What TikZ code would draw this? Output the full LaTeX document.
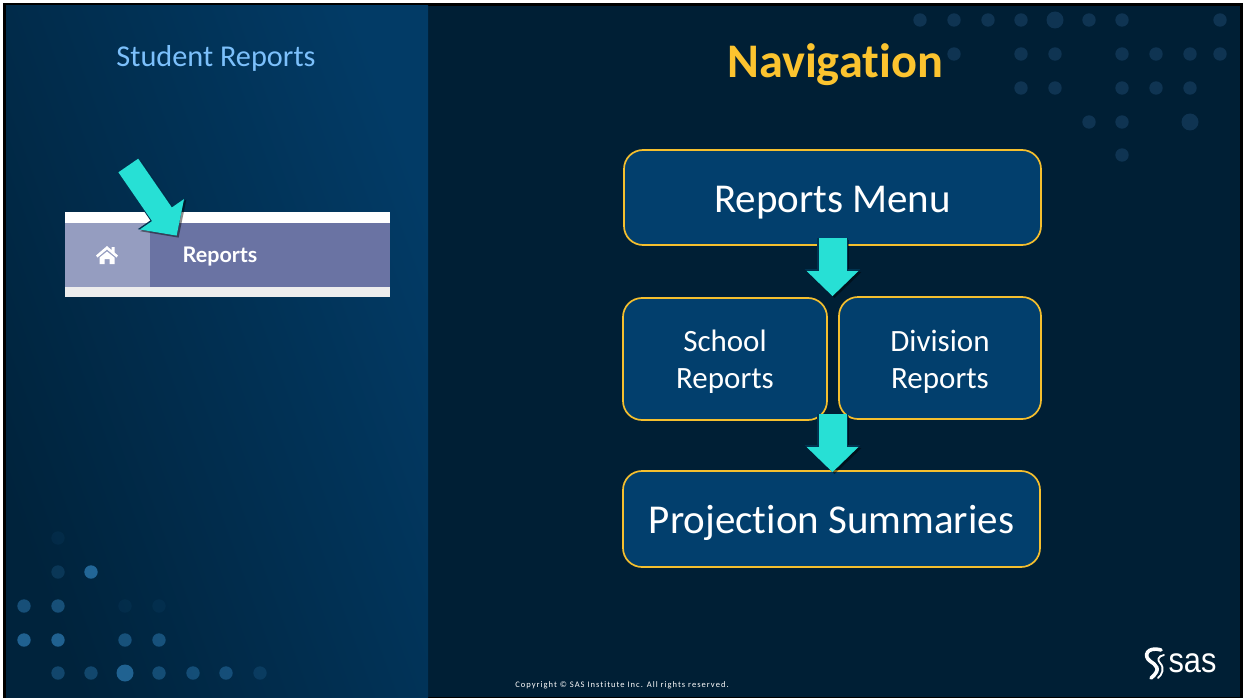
\documentclass[tikz,border=0pt]{standalone}
\usepackage{xcolor}
\usepackage{fontspec}
\usepackage{tikz}
\usetikzlibrary{arrows.meta, positioning}
\setmainfont[Ligatures=NoCommon]{Carlito}
\newfontfamily\lablfont{Lato}
\newfontfamily\logofont{Liberation Sans}
\newfontfamily\copyfont[LetterSpace=12,Ligatures=NoCommon]{Carlito}

\definecolor{framedark}{HTML}{000000}
\definecolor{rightpanel}{HTML}{001F35}
\definecolor{panelleft}{HTML}{00233C}
\definecolor{panelright}{HTML}{023B66}
\definecolor{boxblue}{HTML}{023F6D}
\definecolor{boxgold}{HTML}{F5BF2E}
\definecolor{navgold}{HTML}{FCC42F}
\definecolor{titleblue}{HTML}{7CC0FB}
\definecolor{arrowteal}{HTML}{27E0D5}
\definecolor{arrowedge}{HTML}{013350}
\definecolor{dotright}{HTML}{0F3452}
\definecolor{dotleft}{HTML}{2E7CB4}
\definecolor{tabhome}{HTML}{959DC0}
\definecolor{tabreports}{HTML}{6A73A3}

\tikzset{
  reportbox/.style={draw=boxgold, fill=boxblue, line width=1.7pt, rounded corners=19pt,
    text=white, align=center, inner sep=0pt},
  arrowshadow/.style={draw=black, opacity=.45, transform canvas={shift={(2pt,-2pt)}}},
  flowarrow/.style={draw=arrowteal, line width=28pt, -{Triangle[width=50pt,length=25pt]},
    preaction={arrowshadow, line width=29pt, -{Triangle[width=52pt,length=26pt]}},
    preaction={draw=arrowedge, line width=31pt, -{Triangle[width=54pt,length=27pt]}}},
  tiltarrow/.style={draw=arrowteal, line width=24pt, -{Triangle[width=52pt,length=26pt]},
    preaction={arrowshadow, line width=25pt, -{Triangle[width=54pt,length=27pt]}},
    preaction={draw=arrowedge, line width=26pt, -{Triangle[width=55pt,length=27.5pt]}}},
  dotr/.style={fill=dotright},
  dotl/.style={fill=dotleft}
}

\begin{document}
\begin{tikzpicture}[x=1pt,y=-1pt]
\useasboundingbox (0,0) rectangle (1244,698);
% Frame and panels
\fill[framedark] (3,3) rectangle (1243,698);
\fill[rightpanel] (6,6) rectangle (1240,697);
\shade[left color=panelleft, right color=panelright, shading angle=110] (6,6) rectangle (428,697);

% Dots
\foreach \x/\y in {920/20,954/20,988/20,1021/20,1089/20,1122/20,1220/20,
  954/54,1021/54,1055/54,1122/54,1156/54,1190/54,1220/54,
  1021/88,1055/88,1122/88,1156/88,1190/88,
  1089/122,1122/122,1122/155}
  \fill[dotr] (\x,\y) circle (6.7);
\fill[dotr] (1055,20) circle (8.5);
\fill[dotr] (1190,122) circle (8.5);

\foreach \x/\y/\o in {58/538/8,58/572/22,91/572/75,24/606/50,58/606/50,125/606/8,159/606/8,
  24/640/70,58/640/70,125/640/50,159/640/50,
  58/673/40,91/673/40,159/673/45,193/673/45,226/673/45,260/673/20}
  \fill[dotl, opacity=\o/100] (\x,\y) circle (6.7);
\fill[dotl, opacity=.7] (125,673) circle (8.5);

% Titles
\node[text=titleblue, font=\fontsize{30.3}{36}\selectfont] (student) at (216,58.5) {Student Reports};
\node[text=navgold, font=\fontsize{48.3}{54}\selectfont\bfseries] (navigation) at (835,64.5) {Navigation};

% Menu bar
\fill[white] (65,212) rectangle (390,223);
\fill[black!7] (65,287) rectangle (390,297);
\fill[tabhome] (65,222.5) rectangle (149.5,287);
\fill[tabreports] (149.5,222.5) rectangle (390,287);
\fill[white] (96,255.5) -- (107,246) -- (111.5,250) -- (111.5,247) -- (114.5,247) -- (114.5,252.5)
  -- (118,255.5) -- (116.5,257.5) -- (107,249.5) -- (97.5,257.5) -- cycle;
\fill[white] (99.5,257.5) -- (107,251.5) -- (114.5,257.5) -- (114.5,264) -- (109.5,264) -- (109.5,259)
  -- (104.5,259) -- (104.5,264) -- (99.5,264) -- cycle;
\node[text=white, font=\lablfont\fontsize{21.5}{26}\selectfont\bfseries] (reportstab) at (220,257) {Reports};

% Boxes
\node[reportbox, minimum width=417pt, minimum height=95pt, text height=36pt, font=\fontsize{41}{48}\selectfont] (menu) at (832.5,197.5) {Reports Menu};
\node[reportbox, minimum width=204pt, minimum height=122pt, text height=64pt, font=\fontsize{31}{37.5}\selectfont] (school) at (725,359) {School\\Reports};
\node[reportbox, minimum width=202pt, minimum height=122pt, text height=66pt, font=\fontsize{31}{37.5}\selectfont] (division) at (940,358) {Division\\Reports};
\node[reportbox, minimum width=417pt, minimum height=96pt, text height=36pt, font=\fontsize{41}{48}\selectfont] (projection) at (831.5,519) {Projection Summaries};

% Arrows
\coordinate (tailtab) at (128.3,165.5);
\coordinate (tiptab) at (176.7,235.7);
\draw[tiltarrow] (tailtab) -- (tiptab);
\draw[flowarrow] ([yshift=8pt]menu.south) -- (menu.south |- division.north);
\draw[flowarrow] ([xshift=1pt,yshift=7pt]school.south -| projection.north) -- ([xshift=1pt,yshift=-2pt]projection.north);

% Footer
\node[text=white, font=\copyfont\fontsize{8.5}{10}\selectfont] (copyright) at (622,685) {Copyright © SAS Institute Inc. All rights reserved.};
\draw[white, line width=3.6pt, line cap=round] (1161,650) .. controls (1147,646) and (1143,656) .. (1150,661)
  .. controls (1156,665) and (1162,669) .. (1151,678);
\draw[white, line width=1.8pt, line cap=round] (1164,655) .. controls (1158,656) and (1157,660) .. (1160,663)
  .. controls (1165,668) and (1162,675) .. (1158,678);
\node[text=white, font=\logofont\fontsize{35}{40}\selectfont, xscale=.88, anchor=base] (saslogo) at (1192.5,672) {sas};
\end{tikzpicture}
\end{document}
